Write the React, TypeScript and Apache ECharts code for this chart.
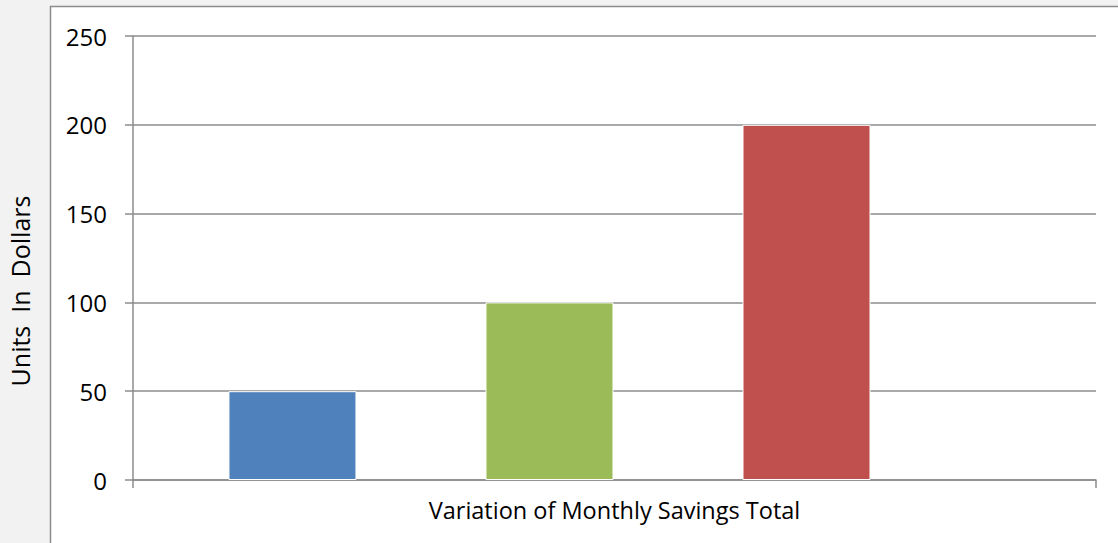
import React, { useEffect, useRef } from "react";
import * as echarts from "echarts";

const categories = ["Variation of Monthly Savings Total"];
const seriesNames = ["Series A", "Series B", "Series C"];
const seriesValues = [[50], [100], [200]];
const seriesColors = ["#4f81bd", "#9bbb59", "#c0504d"];
const yTicks = { min: 0, max: 250, interval: 50 };
const xAxisTitle = "Variation of Monthly Savings Total";
const yAxisTitle = "Units  In  Dollars";

export default function App() {
  const ref = useRef<HTMLDivElement>(null);
  useEffect(() => {
    if (!ref.current) return;
    const chart = echarts.init(ref.current, null, { renderer: "svg" });
    const font = "'Open Sans', 'Noto Sans', sans-serif";
    const bars: any[] = seriesNames.map((name, i) => ({
      name,
      type: "bar",
      data: seriesValues[i],
      barWidth: 128,
      barGap: "100.8%",
      itemStyle: { color: seriesColors[i], borderColor: "#ffffff", borderWidth: 1 },
    }));
    bars.push({
      name: "",
      type: "bar",
      data: [null],
      barWidth: 1,
      barGap: "100.8%",
      itemStyle: { color: "transparent" },
    });
    chart.setOption({
      animation: false,
      backgroundColor: "#f2f2f2",
      textStyle: { fontFamily: font },
      graphic: [
        {
          type: "rect",
          z: -10,
          shape: { x: 50.5, y: 6.5, width: 1100, height: 600 },
          style: { fill: "#ffffff", stroke: "#8c8c8c", lineWidth: 1.5 },
        },
        {
          type: "text",
          x: 20,
          y: 291,
          rotation: Math.PI / 2,
          style: {
            text: yAxisTitle,
            fontFamily: font,
            fontSize: 25,
            fill: "#000000",
            align: "center",
            verticalAlign: "middle",
          },
        },
      ],
      grid: { left: 133, right: 22, top: 36, bottom: 63, containLabel: false },
      xAxis: {
        type: "category",
        data: categories,
        boundaryGap: true,
        axisLine: { show: true, lineStyle: { color: "#8c8c8c", width: 1.5 } },
        axisTick: { show: true, length: 8, lineStyle: { color: "#8c8c8c", width: 1.5 } },
        axisLabel: { show: false },
        name: xAxisTitle,
        nameLocation: "middle",
        nameGap: 18,
        nameTextStyle: { fontFamily: font, fontSize: 23.5, color: "#000000", verticalAlign: "top" },
      },
      yAxis: {
        type: "value",
        min: yTicks.min,
        max: yTicks.max,
        interval: yTicks.interval,
        axisLine: { show: true, lineStyle: { color: "#8c8c8c", width: 1.5 } },
        axisTick: { show: true, length: 8, lineStyle: { color: "#8c8c8c", width: 1.5 } },
        axisLabel: { fontFamily: font, fontSize: 24, color: "#000000", margin: 26 },
        splitLine: { show: true, lineStyle: { color: "#8c8c8c", width: 1.5 } },
      },
      series: bars,
    });
    return () => chart.dispose();
  }, []);
  return (
    <div
      ref={ref}
      style={{ position: "absolute", left: 0, top: 0, width: 1118, height: 543 }}
    />
  );
}
